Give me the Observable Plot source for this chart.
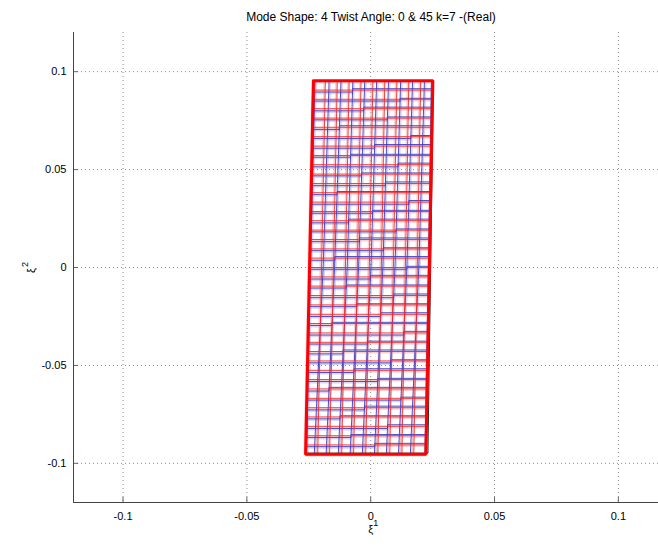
<!DOCTYPE html>
<html>
<head>
<meta charset="utf-8">
<script src="https://cdn.jsdelivr.net/npm/d3@7"></script>
<script src="https://cdn.jsdelivr.net/npm/@observablehq/plot@0.6"></script>
<style>
  body { margin: 0; background: #fff; }
  #wrap { width: 658px; height: 546px; font-family: "Liberation Sans", Arial, sans-serif; }
  #title { height: 26px; box-sizing: border-box; padding: 10px 0 0 84px; font-size: 12px; line-height: 14px; text-align: center; color: #000; }
</style>
</head>
<body>
<div id="wrap">
  <div id="title">Mode Shape: 4 Twist Angle: 0 &amp; 45 k=7 -(Real)</div>
  <div id="chart"></div>
</div>
<script>
// Axis ticks
const xTicks = [-0.1, -0.05, 0, 0.05, 0.1];
const xTickLabels = ["-0.1", "-0.05", "0", "0.05", "0.1"];
const yTicks = [-0.1, -0.05, 0, 0.05, 0.1];
const yTickLabels = ["-0.1", "-0.05", "0", "0.05", "0.1"];

// Reference (red) mesh: column positions on the top and bottom edges, row heights
const redColTop = [-0.0231, -0.0183, -0.0135, -0.0087, -0.0039, 0.0009, 0.0057, 0.0106, 0.0154, 0.0202, 0.0251];
const redColBot = [-0.0263, -0.0214, -0.0166, -0.0117, -0.0069, -0.0020, 0.0029, 0.0077, 0.0126, 0.0174, 0.0223];
const redRowY = [0.0954, 0.0906, 0.0859, 0.0811, 0.0763, 0.0716, 0.0668, 0.0620, 0.0572, 0.0525,
  0.0477, 0.0429, 0.0382, 0.0334, 0.0286, 0.0239, 0.0191, 0.0143, 0.0095, 0.0048, 0.0000,
  -0.0048, -0.0095, -0.0143, -0.0191, -0.0239, -0.0286, -0.0334, -0.0382, -0.0429, -0.0477,
  -0.0525, -0.0572, -0.0620, -0.0668, -0.0716, -0.0763, -0.0811, -0.0859, -0.0906, -0.0954];

// Mode-shape (blue) mesh: column positions at top, middle and bottom
const blueColTop = [-0.0225, -0.0168, -0.0120, -0.0072, -0.0024, 0.0024, 0.0072, 0.0121, 0.0169, 0.0217, 0.0245];
const blueColMid = [-0.0243, -0.0192, -0.0146, -0.0095, -0.0049, 0.0001, 0.0049, 0.0098, 0.0146, 0.0194, 0.0233];
const blueColBot = [-0.0259, -0.0228, -0.0180, -0.0131, -0.0083, -0.0034, 0.0015, 0.0063, 0.0112, 0.0160, 0.0219];
// Blue rows: height on the left part, on the right part, and the column where the row steps
const blueRowYL = [0.0950, 0.0896, 0.0850, 0.0800, 0.0754, 0.0705, 0.0659, 0.0609, 0.0563, 0.0514,
  0.0468, 0.0418, 0.0372, 0.0323, 0.0277, 0.0228, 0.0182, 0.0132, 0.0086, 0.0037, -0.0009,
  -0.0059, -0.0105, -0.0154, -0.0200, -0.0250, -0.0296, -0.0345, -0.0391, -0.0441, -0.0487,
  -0.0536, -0.0582, -0.0631, -0.0677, -0.0727, -0.0773, -0.0822, -0.0868, -0.0915, -0.0950];
const blueRowYR = [0.0950, 0.0913, 0.0864, 0.0819, 0.0769, 0.0724, 0.0674, 0.0628, 0.0578, 0.0533,
  0.0483, 0.0437, 0.0388, 0.0342, 0.0292, 0.0247, 0.0197, 0.0151, 0.0101, 0.0056, 0.0006,
  -0.0040, -0.0089, -0.0135, -0.0185, -0.0231, -0.0280, -0.0326, -0.0376, -0.0421, -0.0471,
  -0.0517, -0.0566, -0.0612, -0.0662, -0.0708, -0.0757, -0.0803, -0.0853, -0.0898, -0.0950];
const blueRowStep = [5, 3, 7, 4, 6, 2, 8, 5, 3, 7, 4, 6, 2, 8, 5, 3, 7, 4, 6, 2, 8,
  5, 3, 7, 4, 6, 2, 8, 5, 3, 7, 4, 6, 2, 8, 5, 3, 7, 4, 6, 5];

// Outlines of the deformed shape
const outlineX = [-0.0231, 0.0251, 0.0223, -0.0263, -0.0231];
const outlineY = [0.0954, 0.0954, -0.0954, -0.0954, 0.0954];
const edgeX = [-0.0234, 0.0253, 0.0231, -0.0260, -0.0234];
const edgeY = [0.0950, 0.0950, -0.0948, -0.0948, 0.0950];

// ---- build line tables ----
const yTop = redRowY[0], yBot = redRowY[redRowY.length - 1];
const lerpCol = (top, bot, y) => bot + (top - bot) * (y - yBot) / (yTop - yBot);
const blueColAt = (c, y) => y >= 0
  ? blueColMid[c] + (blueColTop[c] - blueColMid[c]) * y / yTop
  : blueColMid[c] + (blueColBot[c] - blueColMid[c]) * y / yBot;

const redCols = redColTop.flatMap((t, c) => [
  {id: "c" + c, x: t, y: yTop},
  {id: "c" + c, x: redColBot[c], y: yBot}
]);
const redRows = redRowY.flatMap((y, r) => [
  {id: "r" + r, x: lerpCol(redColTop[0], redColBot[0], y), y},
  {id: "r" + r, x: lerpCol(redColTop[10], redColBot[10], y), y}
]);
const blueCols = blueColTop.flatMap((t, c) => [
  {id: "bc" + c, x: t, y: yTop},
  {id: "bc" + c, x: blueColMid[c], y: 0},
  {id: "bc" + c, x: blueColBot[c], y: yBot}
]);
const blueRows = blueRowYL.flatMap((yl, r) => {
  const yr = blueRowYR[r], s = blueRowStep[r];
  return [
    {id: "br" + r, x: blueColAt(0, yl), y: yl},
    {id: "br" + r, x: blueColAt(s, yl), y: yl},
    {id: "br" + r, x: blueColAt(s, yr), y: yr},
    {id: "br" + r, x: blueColAt(10, yr), y: yr}
  ];
});

const xMin = -0.12, yMin = -0.12;

const chart = Plot.plot({
  width: 658,
  height: 520,
  marginTop: 6,
  marginBottom: 44,
  marginLeft: 73,
  marginRight: 0,
  x: {domain: [-0.12, 0.1162], axis: null},
  y: {domain: [-0.12, 0.12], axis: null},
  style: {fontFamily: "Liberation Sans, Arial, sans-serif", fontSize: "11px", color: "#000", background: "#fff"},
  marks: [
    // dotted grid
    Plot.ruleX(xTicks, {stroke: "#8a8a8a", strokeWidth: 1, strokeDasharray: "1,3"}),
    Plot.ruleY(yTicks, {stroke: "#8a8a8a", strokeWidth: 1, strokeDasharray: "1,3"}),

    // soft halos around the mesh lines
    Plot.line(blueRows, {x: "x", y: "y", z: "id", stroke: "#b4b4ec", strokeWidth: 1.6, strokeOpacity: 0.55, dy: 1.3}),
    Plot.line(blueCols, {x: "x", y: "y", z: "id", stroke: "#b4b4ec", strokeWidth: 1.6, strokeOpacity: 0.55, dx: 1.3}),
    Plot.line(redRows, {x: "x", y: "y", z: "id", stroke: "#f5b0b0", strokeWidth: 1.6, strokeOpacity: 0.6, dy: 1.3}),
    Plot.line(redCols, {x: "x", y: "y", z: "id", stroke: "#f5b0b0", strokeWidth: 1.6, strokeOpacity: 0.6, dx: -1.3}),

    // mode-shape mesh (blue) and reference mesh (red)
    Plot.line(blueRows, {x: "x", y: "y", z: "id", stroke: "#3a3ac4", strokeWidth: 0.9}),
    Plot.line(blueCols, {x: "x", y: "y", z: "id", stroke: "#3a3ac4", strokeWidth: 0.9}),
    Plot.line(redRows, {x: "x", y: "y", z: "id", stroke: "#f02a2a", strokeWidth: 0.9}),
    Plot.line(redCols, {x: "x", y: "y", z: "id", stroke: "#f02a2a", strokeWidth: 0.9}),

    // outlines
    Plot.line(edgeX.map((x, i) => ({x, y: edgeY[i]})), {x: "x", y: "y", stroke: "#222", strokeWidth: 1}),
    Plot.line(outlineX.map((x, i) => ({x, y: outlineY[i]})), {x: "x", y: "y", stroke: "#ff0000", strokeWidth: 3, strokeLinejoin: "miter"}),

    // axes lines and inward ticks
    Plot.ruleX(xTicks, {y1: yMin, y2: yMin + 0.0026, stroke: "#666"}),
    Plot.ruleY(yTicks, {x1: xMin, x2: xMin + 0.0021, stroke: "#666"}),
    Plot.ruleY([yMin], {stroke: "#444", strokeWidth: 1}),
    Plot.ruleX([xMin], {stroke: "#444", strokeWidth: 1}),

    // tick labels
    Plot.text(xTickLabels, {x: (d, i) => xTicks[i], y: () => yMin, text: d => d, dy: 14, fontSize: 11, fill: "#000"}),
    Plot.text(yTickLabels, {x: () => xMin, y: (d, i) => yTicks[i], text: d => d, dx: -7, textAnchor: "end", fontSize: 11, fill: "#000"}),

    // axis labels: ξ with a raised index
    Plot.text(["ξ"], {x: () => 0, y: () => yMin, text: d => d, dy: 27, fontSize: 11, fill: "#000"}),
    Plot.text(["1"], {x: () => 0, y: () => yMin, text: d => d, dx: 5, dy: 21, fontSize: 9, fill: "#000"}),
    Plot.text(["ξ"], {x: () => xMin, y: () => 0, text: d => d, dx: -42, dy: 3, rotate: -90, fontSize: 11, fill: "#000"}),
    Plot.text(["2"], {x: () => xMin, y: () => 0, text: d => d, dx: -48, dy: -3, rotate: -90, fontSize: 9, fill: "#000"})
  ]
});

document.getElementById("chart").appendChild(chart);
</script>
</body>
</html>
